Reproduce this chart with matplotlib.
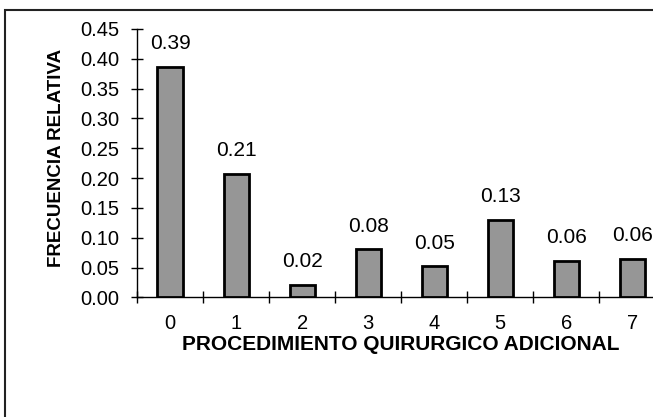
import matplotlib
matplotlib.use("Agg")
import matplotlib.pyplot as plt
from matplotlib.patches import Rectangle

# data
categories = [0, 1, 2, 3, 4, 5, 6, 7]
freq = [0.387, 0.207, 0.021, 0.081, 0.052, 0.130, 0.061, 0.065]
labels = ["0.39", "0.21", "0.02", "0.08", "0.05", "0.13", "0.06", "0.06"]
yticks = [0.00, 0.05, 0.10, 0.15, 0.20, 0.25, 0.30, 0.35, 0.40, 0.45]

plt.rcParams['font.family'] = ['Liberation Sans', 'DejaVu Sans']

fig = plt.figure(figsize=(6.53, 4.17), dpi=100)
ax = fig.add_axes([0.2098, 0.2866, 0.809, 0.6439])

bars = ax.bar(categories, freq, width=0.38, color='#969696',
              edgecolor='black', linewidth=2.0, zorder=3)

for b, lab in zip(bars, labels):
    ax.annotate(lab, (b.get_x() + b.get_width() / 2, b.get_height()),
                xytext=(0, 12.7), textcoords='offset points',
                ha='center', va='baseline', fontsize=15)

ax.set_xlim(-0.5, 7.5)
ax.set_ylim(0, 0.45)

# y axis: ticks crossing the spine
ax.set_yticks(yticks)
ax.set_yticklabels(["%.2f" % v for v in yticks])
ax.tick_params(axis='y', direction='inout', length=8, width=1,
               pad=9, labelsize=14.5)

# x axis: labels at centres, crossing ticks at the boundaries
ax.set_xticks(categories)
ax.set_xticklabels([str(c) for c in categories])
ax.set_xticks([c - 0.5 for c in categories] + [7.5], minor=True)
ax.tick_params(axis='x', which='major', length=0, pad=12, labelsize=14.5)
ax.tick_params(axis='x', which='minor', direction='inout', length=8, width=1)

for side in ['top', 'right']:
    ax.spines[side].set_visible(False)
for side in ['left', 'bottom']:
    ax.spines[side].set_linewidth(1)

ax.set_xlabel("PROCEDIMIENTO QUIRURGICO ADICIONAL", fontsize=15,
              fontweight='bold', labelpad=1)
ax.set_ylabel("FRECUENCIA RELATIVA", fontsize=13.5, fontweight='bold')
ax.yaxis.set_label_coords(-0.136, 0.518)

# outer chart-area border (only top/left visible in the crop)
border = Rectangle((5 / 653, -0.5), 2, 0.5 + (417 - 10) / 417,
                   transform=fig.transFigure, fill=False,
                   edgecolor='#222222', linewidth=1.5, clip_on=False)
fig.patches.append(border)

fig.savefig("out.png", dpi=100)
